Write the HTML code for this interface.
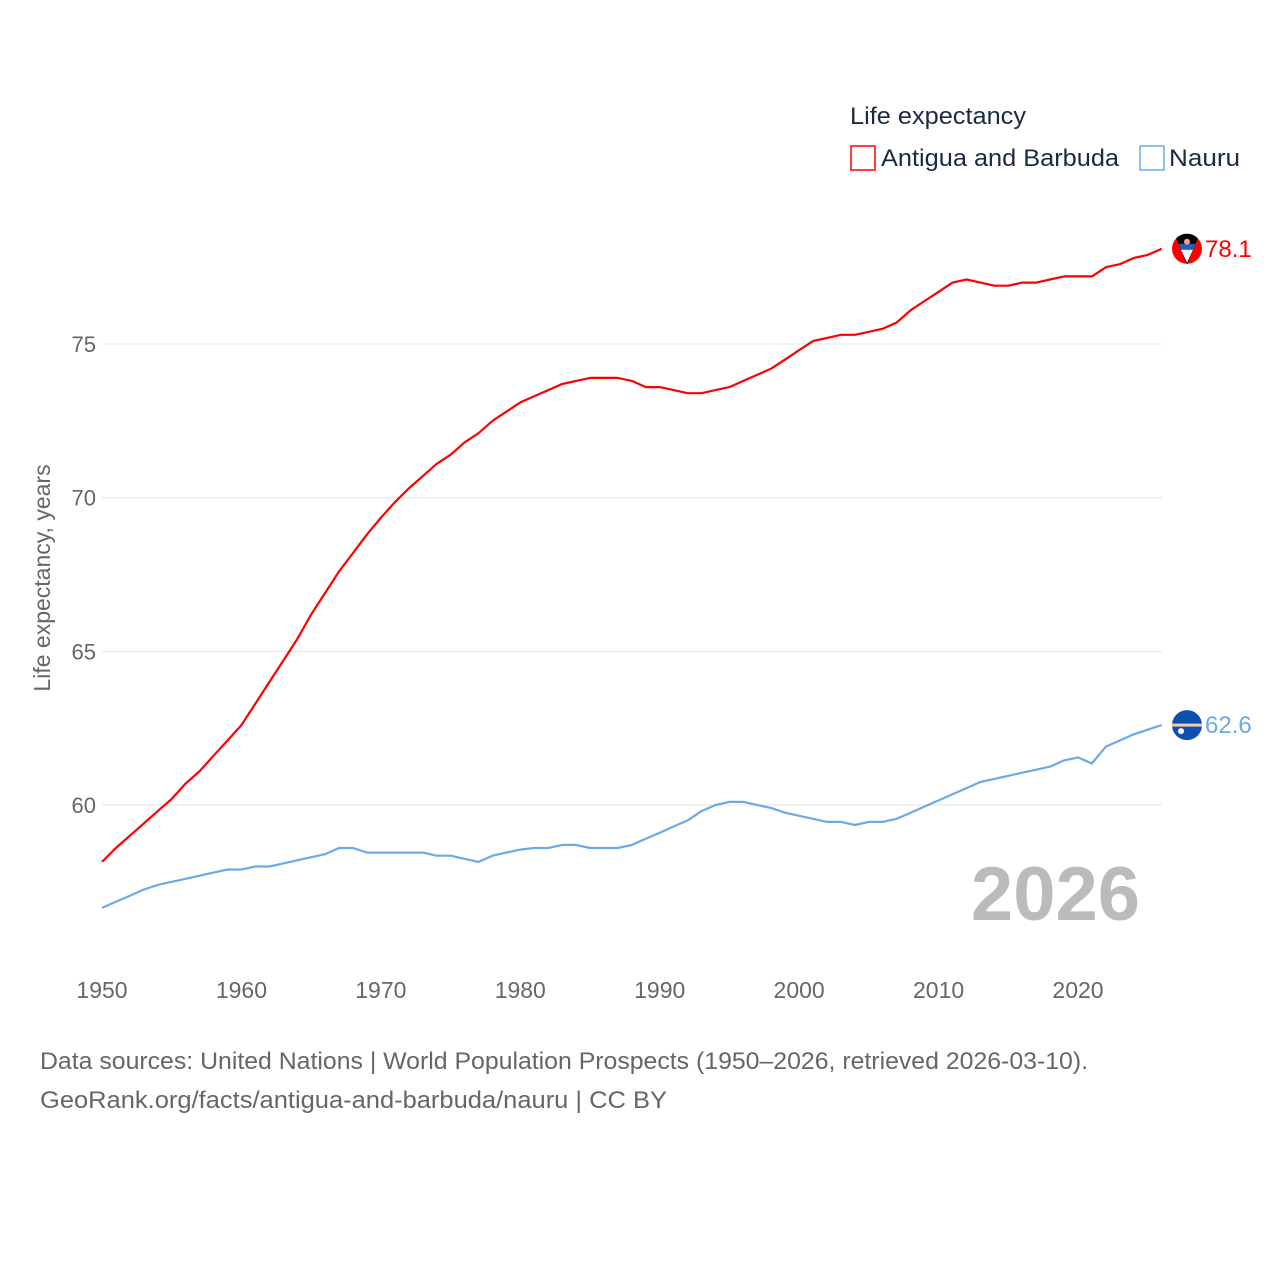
<!DOCTYPE html>
<html><head><meta charset="utf-8"><style>
body{margin:0;background:#fff;}
svg text{font-family:"Liberation Sans",sans-serif;}
</style></head><body>
<svg id="chart" width="1280" height="1280" viewBox="0 0 1280 1280" xmlns="http://www.w3.org/2000/svg">
<g id="grid"></g>
<g id="yticks"></g>
<g id="xticks"></g>
<text transform="translate(50,578) rotate(-90)" text-anchor="middle" font-size="23" fill="#666">Life expectancy, years</text>
<text x="1140" y="920" text-anchor="end" font-size="76" font-weight="bold" fill="#bbb">2026</text>
<g id="series"></g>
<g>
<text x="850" y="124" font-size="24" fill="#1a2a44" textLength="176" lengthAdjust="spacingAndGlyphs">Life expectancy</text>
<rect x="851" y="146" width="24" height="24" fill="none" stroke="#f00" stroke-width="1.5"/>
<text x="881" y="166" font-size="24" fill="#1a2a44" textLength="238" lengthAdjust="spacingAndGlyphs">Antigua and Barbuda</text>
<rect x="1140" y="146" width="24" height="24" fill="none" stroke="#6aaae8" stroke-width="1.5"/>
<text x="1169" y="166" font-size="24" fill="#1a2a44" textLength="71" lengthAdjust="spacingAndGlyphs">Nauru</text>
</g>
<text x="40" y="1069" font-size="24" fill="#666" textLength="1048" lengthAdjust="spacingAndGlyphs">Data sources: United Nations | World Population Prospects (1950–2026, retrieved 2026-03-10).</text>
<text x="40" y="1108" font-size="24" fill="#666" textLength="627" lengthAdjust="spacingAndGlyphs">GeoRank.org/facts/antigua-and-barbuda/nauru | CC BY</text>
</svg>
<script>
const startYear = 1950;
const antigua = [58.15,58.6,59.0,59.4,59.8,60.2,60.7,61.1,61.6,62.1,62.6,63.3,64.0,64.7,65.4,66.2,66.9,67.6,68.2,68.8,69.35,69.85,70.3,70.7,71.1,71.4,71.8,72.1,72.5,72.8,73.1,73.3,73.5,73.7,73.8,73.9,73.9,73.9,73.8,73.6,73.6,73.5,73.4,73.4,73.5,73.6,73.8,74.0,74.2,74.5,74.8,75.1,75.2,75.3,75.3,75.4,75.5,75.7,76.1,76.4,76.7,77.0,77.1,77.0,76.9,76.9,77.0,77.0,77.1,77.2,77.2,77.2,77.5,77.6,77.8,77.9,78.1];
const nauru = [56.65,56.85,57.05,57.25,57.4,57.5,57.6,57.7,57.8,57.9,57.9,58.0,58.0,58.1,58.2,58.3,58.4,58.6,58.6,58.45,58.45,58.45,58.45,58.45,58.35,58.35,58.25,58.15,58.35,58.45,58.55,58.6,58.6,58.7,58.7,58.6,58.6,58.6,58.7,58.9,59.1,59.3,59.5,59.8,60.0,60.1,60.1,60.0,59.9,59.75,59.65,59.55,59.45,59.45,59.35,59.45,59.45,59.55,59.75,59.95,60.15,60.35,60.55,60.75,60.85,60.95,61.05,61.15,61.25,61.45,61.55,61.35,61.9,62.1,62.3,62.45,62.6];
const yTicks = [60,65,70,75];
const xTicks = [1950,1960,1970,1980,1990,2000,2010,2020];
const NS="http://www.w3.org/2000/svg";
const X = yr => 102 + (yr-1950)*(976/70);
const Y = v => 805 - (v-60)*30.73;
function mk(tag, attrs, parent){const e=document.createElementNS(NS,tag);for(const k in attrs)e.setAttribute(k,attrs[k]);parent.appendChild(e);return e;}
const grid=document.getElementById('grid'), yt=document.getElementById('yticks'), xt=document.getElementById('xticks'), ser=document.getElementById('series');
yTicks.forEach(v=>{
  const l=mk('line',{x1:102,x2:1162,y1:Y(v),y2:Y(v),stroke:'#e6e6e6','stroke-width':1},grid);
  
  
  const t=mk('text',{x:96,y:Y(v)+8,'text-anchor':'end','font-size':22,fill:'#666'},yt);
  
  
  t.textContent=v;
});
xTicks.forEach(yr=>{
  const t=mk('text',{x:X(yr),y:998,'text-anchor':'middle','font-size':23,fill:'#666'},xt);
  
  
  t.textContent=yr;
});
function line(data,color,name){
  const d=data.map((v,i)=>(i?'L':'M')+X(startYear+i).toFixed(1)+','+Y(v).toFixed(1)).join(' ');
  const p=mk('path',{d:d,fill:'none',stroke:color,'stroke-width':2.2,'stroke-linejoin':'round'},ser);
  
  
  const last=data[data.length-1];
  const yy=Y(last);
  const t=mk('text',{x:1205,y:yy+8,'font-size':24,fill:color},ser);
  
  
  t.textContent=last.toFixed(1);
  return yy;
}
const ya=line(antigua,'#f00','antigua');
const yn=line(nauru,'#6aaae8','nauru');
const fa=mk('g',{transform:`translate(1187,${ya})`},ser);


mk('defs',{},fa).innerHTML='<clipPath id="ca"><circle r="15"/></clipPath>';
const ga=mk('g',{'clip-path':'url(#ca)'},fa);
mk('rect',{x:-16,y:-16,width:32,height:32,fill:'#f00'},ga);
mk('polygon',{points:'-13,-16 13,-16 0,16',fill:'#000'},ga);
mk('polygon',{points:'-8.5,-5 8.5,-5 6,1 -6,1',fill:'#1f5fc0'},ga);
mk('polygon',{points:'-6,1 6,1 0,14',fill:'#fff'},ga);
mk('circle',{cx:0,cy:-7,r:3,fill:'#f4a080'},ga);
const fn=mk('g',{transform:`translate(1187,${yn})`},ser);


mk('defs',{},fn).innerHTML='<clipPath id="cn"><circle r="15"/></clipPath>';
const gn=mk('g',{'clip-path':'url(#cn)'},fn);
mk('rect',{x:-16,y:-16,width:32,height:32,fill:'#0c4fae'},gn);
mk('rect',{x:-16,y:-1.5,width:32,height:3,fill:'#f6c9a0'},gn);
mk('circle',{cx:-6,cy:6,r:3,fill:'#fff'},gn);
</script>
</body></html>
